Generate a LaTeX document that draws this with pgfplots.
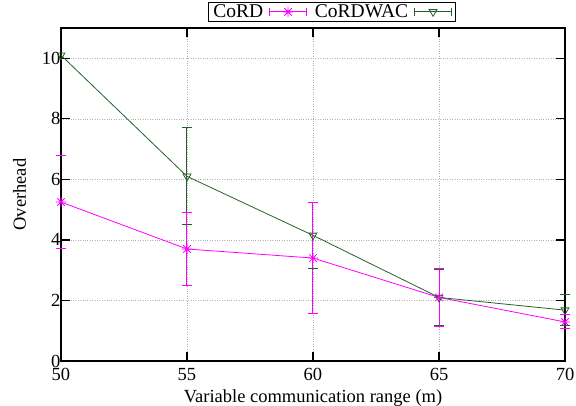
\documentclass[border=0pt]{standalone}
\usepackage{fontspec}
\setmainfont{Liberation Serif}
\usepackage{pgfplots}
\pgfplotsset{compat=1.18}

\definecolor{cordmag}{RGB}{255,0,255}
\definecolor{wacgreen}{RGB}{40,96,40}

% gnuplot style "*" point: plus and cross together
\pgfdeclareplotmark{plusx}{%
  \pgfpathmoveto{\pgfqpoint{-\pgfplotmarksize}{0pt}}%
  \pgfpathlineto{\pgfqpoint{\pgfplotmarksize}{0pt}}%
  \pgfpathmoveto{\pgfqpoint{0pt}{-\pgfplotmarksize}}%
  \pgfpathlineto{\pgfqpoint{0pt}{\pgfplotmarksize}}%
  \pgfpathmoveto{\pgfqpoint{-.75\pgfplotmarksize}{-.75\pgfplotmarksize}}%
  \pgfpathlineto{\pgfqpoint{.75\pgfplotmarksize}{.75\pgfplotmarksize}}%
  \pgfpathmoveto{\pgfqpoint{-.75\pgfplotmarksize}{.75\pgfplotmarksize}}%
  \pgfpathlineto{\pgfqpoint{.75\pgfplotmarksize}{-.75\pgfplotmarksize}}%
  \pgfusepathqstroke}

\begin{document}
\begin{tikzpicture}
\begin{axis}[
    scale only axis,
    width=504pt, height=333pt,
    xmin=50, xmax=70,
    ymin=0, ymax=11,
    xtick={50,55,60,65,70},
    ytick={0,2,4,6,8,10},
    font=\fontsize{18.5}{21}\selectfont,
    /pgf/number format/assume math mode=true,
    xlabel={Variable communication range (m)},
    ylabel={Overhead},
    xlabel style={yshift=-2pt},
    ylabel style={yshift=9pt},
    xticklabel style={yshift=-4pt},
    yticklabel style={xshift=3pt},
    axis line style={line width=1.4pt},
    major tick style={line width=1.2pt, black},
    major tick length=9pt,
    xmajorgrids, ymajorgrids,
    major grid style={dotted, gray!60, line width=0.6pt},
    unbounded coords=jump,
    legend plot pos=right,
    legend columns=2,
    legend style={at={(0.537,1.018)}, anchor=south, draw=black, line width=0.8pt,
        inner xsep=3pt, inner ysep=0.5pt, font=\fontsize{19.5}{20}\selectfont,
        /tikz/every odd column/.append style={column sep=4pt},
        /tikz/every even column/.append style={column sep=6pt}},
    legend image code/.code={
        \draw[#1, mark=none] (0pt,0pt) -- (37pt,0pt);
        \draw[#1, mark=none] (0pt,-4pt) -- (0pt,4pt) (37pt,-4pt) -- (37pt,4pt);
        \draw[#1, only marks] plot coordinates {(18.5pt,0pt)};
    },
]

\addplot[
    color=cordmag, line width=0.8pt,
    mark=plusx, mark size=5pt,
    ]
    coordinates {
        (50,5.25) (55,3.70) (60,3.40) (65,2.10) (70,1.29)
    };
    \addlegendentry{CoRD}

\addplot[
    color=wacgreen, line width=0.8pt,
    mark=triangle, mark size=4.5pt,
    mark options={rotate=180, fill=none},
    ]
    coordinates {
        (50,10.10) (55,6.10) (60,4.15) (65,2.10) (70,1.68)
    };
    \addlegendentry{CoRDWAC}

% error bars (low, high) of CoRDWAC
\addplot[forget plot, draw=wacgreen, line width=1pt, mark=-, mark size=5pt,
    mark options={draw=wacgreen}]
    coordinates {
        (55,4.50) (55,7.70) (55,nan)
        (60,3.06) (60,5.24) (60,nan)
        (65,1.17) (65,3.03) (65,nan)
        (70,1.16) (70,2.20)
    };
\addplot[forget plot, draw=wacgreen, line width=1pt, mark=-, mark size=5pt,
    mark options={draw=wacgreen}, mark indices={2}]
    coordinates {(50,11.60) (50,8.60)};
% error bars (low, high) of CoRD
\addplot[forget plot, draw=cordmag, line width=1pt, mark=-, mark size=5pt,
    mark options={draw=cordmag}]
    coordinates {
        (50,3.70) (50,6.80) (50,nan)
        (55,2.51) (55,4.89) (55,nan)
        (60,1.57) (60,5.23) (60,nan)
        (65,1.13) (65,3.07) (65,nan)
        (70,1.07) (70,1.55)
    };

\end{axis}
\pgfresetboundingbox
\path (current axis.south west) ++(-61pt,-45pt) rectangle ++(576pt,406pt);
\end{tikzpicture}
\end{document}
